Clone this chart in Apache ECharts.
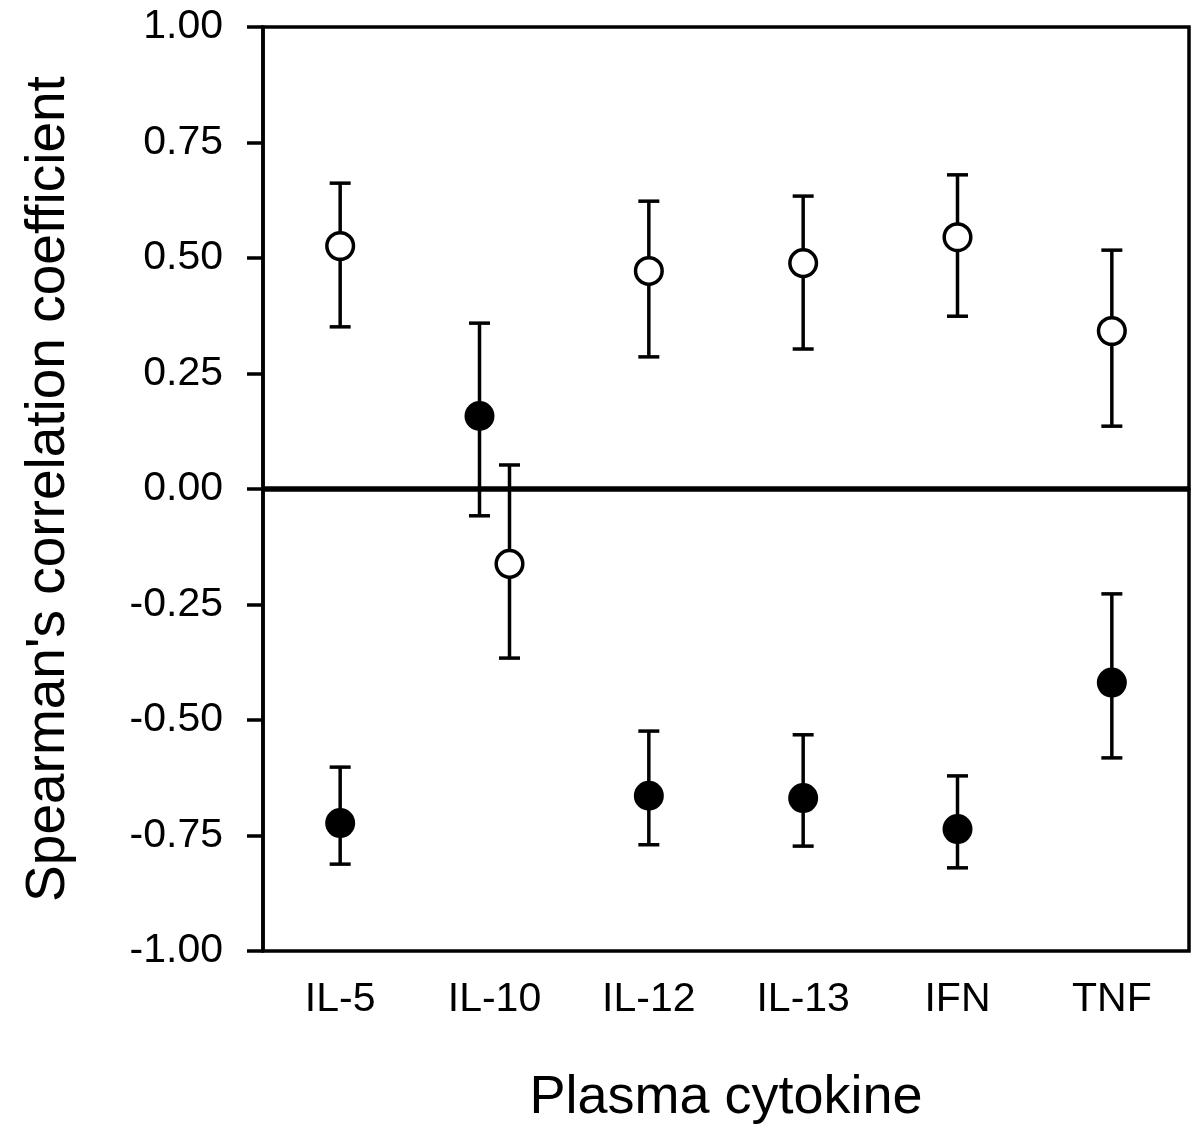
<!DOCTYPE html>
<html>
<head>
<meta charset="utf-8">
<script src="https://cdn.jsdelivr.net/npm/echarts@6/dist/echarts.min.js"></script>
<style>
  html, body { margin: 0; padding: 0; background: #fff; }
  #chart { width: 1200px; height: 1141px; }
</style>
</head>
<body>
<div id="chart"></div>
<script>
// ---- Data ----
const categories = ['IL-5', 'IL-10', 'IL-12', 'IL-13', 'IFN', 'TNF'];

// Open circles
const openMean = [0.526, -0.162, 0.472, 0.489, 0.545, 0.342];
const openLow  = [0.351, -0.366, 0.286, 0.303, 0.374, 0.136];
const openHigh = [0.662,  0.052, 0.623, 0.634, 0.680, 0.517];

// Filled circles
const filledMean = [-0.723, 0.158, -0.664, -0.669, -0.736, -0.419];
const filledLow  = [-0.812, -0.058, -0.770, -0.773, -0.820, -0.582];
const filledHigh = [-0.602, 0.359, -0.524, -0.532, -0.621, -0.227];

const yTicks = { min: -1, max: 1, interval: 0.25 };

// ---- Build ----
const overlap = categories.map((_, i) =>
  filledLow[i] <= openHigh[i] && openLow[i] <= filledHigh[i]);

function rows(mean, low, high) {
  return categories.map((_, i) => [i, mean[i], low[i], high[i]]);
}

function makeRender(filled, side) {
  return function (params, api) {
    const i = api.value(0);
    const c = api.coord([i, api.value(1)]);
    const lo = api.coord([i, api.value(2)]);
    const hi = api.coord([i, api.value(3)]);
    const x = c[0] + (overlap[i] ? side * 15 : 0);
    const cap = 10.5;
    const ls = { stroke: '#000', lineWidth: 3.5 };
    return {
      type: 'group',
      children: [
        { type: 'line', shape: { x1: x, y1: hi[1], x2: x, y2: lo[1] }, style: ls },
        { type: 'line', shape: { x1: x - cap, y1: hi[1], x2: x + cap, y2: hi[1] }, style: ls },
        { type: 'line', shape: { x1: x - cap, y1: lo[1], x2: x + cap, y2: lo[1] }, style: ls },
        {
          type: 'circle',
          shape: { cx: x, cy: c[1], r: filled ? 15 : 13.3 },
          style: filled ? { fill: '#000' } : { fill: '#fff', stroke: '#000', lineWidth: 3.5 }
        }
      ]
    };
  };
}

const font = 'Liberation Sans, Arial, Helvetica, sans-serif';
const chart = echarts.init(document.getElementById('chart'));
chart.setOption({
  animation: false,
  backgroundColor: '#fff',
  grid: {
    left: 263, right: 11, top: 27, bottom: 190,
    show: true, borderColor: '#000', borderWidth: 3.5, backgroundColor: 'transparent'
  },
  xAxis: {
    type: 'category',
    data: categories,
    boundaryGap: true,
    axisLine: { lineStyle: { color: '#000', width: 3.5 } },
    axisTick: { show: false },
    axisLabel: { color: '#000', fontSize: 41, fontFamily: font, margin: 28 },
    splitLine: { show: false },
    name: 'Plasma cytokine',
    nameLocation: 'middle',
    nameGap: 120,
    nameTextStyle: { color: '#000', fontSize: 54, fontFamily: font }
  },
  yAxis: {
    type: 'value',
    min: yTicks.min, max: yTicks.max, interval: yTicks.interval,
    axisLine: { show: true, lineStyle: { color: '#000', width: 3.5 } },
    axisTick: { show: true, length: 16, lineStyle: { color: '#000', width: 3.5 } },
    axisLabel: {
      color: '#000', fontSize: 41, fontFamily: font, margin: 40,
      formatter: v => v.toFixed(2)
    },
    splitLine: { show: false },
    name: "Spearman's correlation coefficient",
    nameLocation: 'middle',
    nameGap: 187,
    nameTextStyle: { color: '#000', fontSize: 55, fontFamily: font }
  },
  series: [
    {
      type: 'custom',
      name: 'filled',
      data: rows(filledMean, filledLow, filledHigh),
      renderItem: makeRender(true, -1),
      z: 3,
      markLine: {
        silent: true,
        symbol: ['none', 'none'],
        label: { show: false },
        lineStyle: { color: '#000', width: 5.5, type: 'solid' },
        data: [{ yAxis: 0 }],
        z: 2
      }
    },
    {
      type: 'custom',
      name: 'open',
      data: rows(openMean, openLow, openHigh),
      renderItem: makeRender(false, 1),
      z: 3
    }
  ]
});
</script>
</body>
</html>
